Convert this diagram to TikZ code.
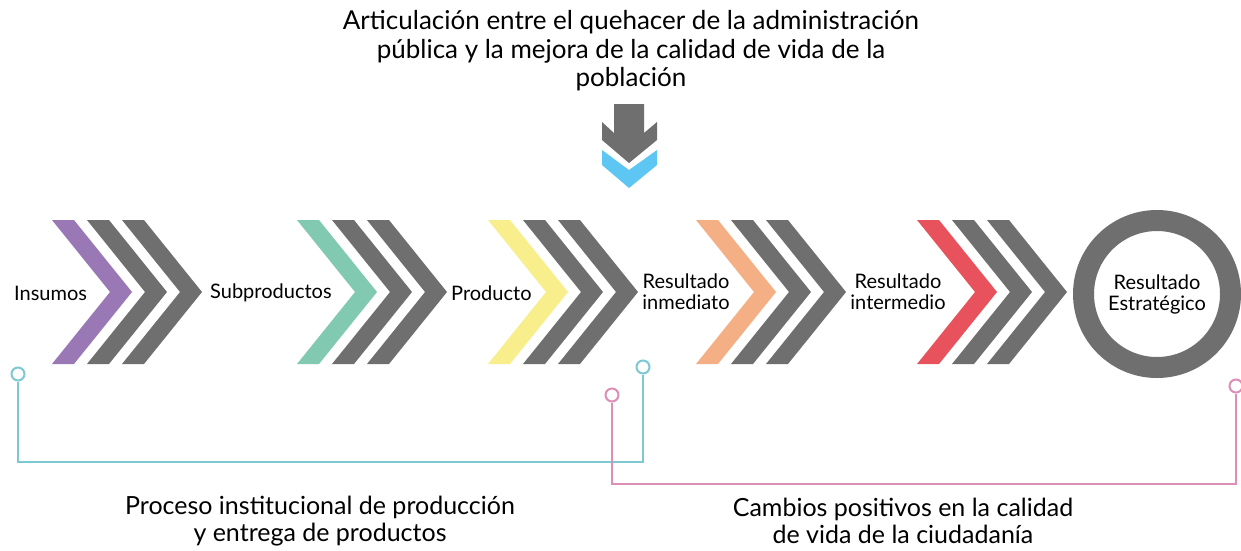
\documentclass[tikz,border=0pt]{standalone}
\usepackage{fontspec}
\setmainfont{Lato}
\usetikzlibrary{positioning}

\definecolor{cgris}{HTML}{6F6F6F}
\definecolor{cmorado}{HTML}{9A78B5}
\definecolor{cverde}{HTML}{82C9B1}
\definecolor{camarillo}{HTML}{F8EE8C}
\definecolor{cnaranja}{HTML}{F4B084}
\definecolor{crojo}{HTML}{E8525C}
\definecolor{cazul}{HTML}{5DC6F2}
\definecolor{ccian}{HTML}{7DC9D3}
\definecolor{crosa}{HTML}{DC8EB6}

\tikzset{
  chev/.style={fill=#1},
  etq/.style={font=\fontsize{20}{21}\selectfont, align=center, inner sep=0pt},
  tit/.style={font=\fontsize{26}{28.5}\selectfont, align=center, inner sep=0pt},
  pie/.style={font=\fontsize{25}{27}\selectfont, align=center, inner sep=0pt},
  aro/.style={circle, draw=#1, line width=2pt, minimum size=13pt, inner sep=0pt},
  con/.style={draw=#1, line width=2pt}
}

\begin{document}
\begin{tikzpicture}[x=1pt,y=-1pt]
    \useasboundingbox (0,0) rectangle (1241,550);
    \fill[white] (0,0) rectangle (1241,550);

    \node[tit] (titulo) at (631,51)
      {Articulación entre el quehacer de la administración\\
       pública y la mejora de la calidad de vida de la\\
       población};

    \fill[cgris] (614,104) -- (644,104) -- (644,133) -- (657,122) -- (657,140)
      -- (629,163) -- (602,140) -- (602,122) -- (614,133) -- cycle;
    \fill[cazul] (602,150) -- (629,170) -- (657,150) -- (657,165)
      -- (629,188) -- (602,165) -- cycle;

    \foreach \x/\c in {52/cmorado,297/cverde,488/camarillo,696/cnaranja,917/crojo} {
      \fill[chev=\c] (\x,220) -- ++(22,0) -- ++(58,72) -- ++(-58,72)
        -- ++(-22,0) -- ++(58,-72) -- cycle;
      \foreach \d in {35,70}
        \fill[chev=cgris] (\x+\d,220) -- ++(22,0) -- ++(58,72) -- ++(-58,72)
          -- ++(-22,0) -- ++(58,-72) -- cycle;
    }

    \node[etq, anchor=west] (insumos) at (14,293) {Insumos};
    \node[etq, anchor=west] (subprod) at (210,293) {Subproductos};
    \node[etq, anchor=west] (producto) at (451,293) {Producto};
    \node[etq] (inmediato) at (686,292) {Resultado\\inmediato};
    \node[etq] (intermedio) at (898,292) {Resultado\\intermedio};
    \node[circle, draw=cgris, line width=21pt, minimum size=147pt,
      etq] (estrategico) at (1157,294) {Resultado\\Estratégico};

    \node[aro=ccian] (c1) at (18,374) {};
    \node[aro=ccian] (c2) at (643,367) {};
    \node[aro=crosa] (r1) at (612,395) {};
    \node[aro=crosa] (r2) at (1236,386) {};
    \coordinate (b1) at (18,462);
    \coordinate (b2) at (612,484);

    \draw[con=ccian] (c1.south) -- (b1) -| (c2.south);
    \draw[con=crosa] (r1.south) -- (b2) -| (r2.south);

    \node[pie] (proceso) at (320,521)
      {Proceso institucional de producción\\y entrega de productos};
    \node[pie] (cambios) at (903,521)
      {Cambios positivos en la calidad\\de vida de la ciudadanía};
\end{tikzpicture}
\end{document}
